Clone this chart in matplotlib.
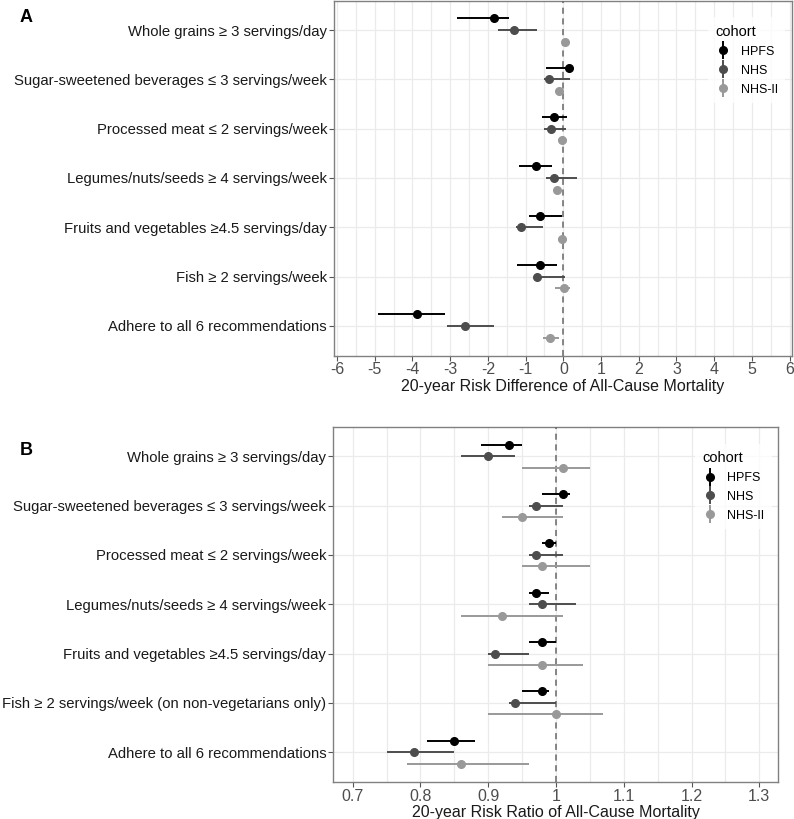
import matplotlib.pyplot as plt
import numpy as np
from matplotlib.lines import Line2D
from matplotlib.legend_handler import HandlerTuple

plt.rcParams["font.family"] = ["Liberation Sans", "DejaVu Sans"]

labels_a = ["Whole grains ≥ 3 servings/day",
            "Sugar-sweetened beverages ≤ 3 servings/week",
            "Processed meat ≤ 2 servings/week",
            "Legumes/nuts/seeds ≥ 4 servings/week",
            "Fruits and vegetables ≥4.5 servings/day",
            "Fish ≥ 2 servings/week",
            "Adhere to all 6 recommendations"]
labels_b = labels_a[:5] + ["Fish ≥ 2 servings/week (on non-vegetarians only)",
                           labels_a[6]]
cohorts = ["HPFS", "NHS", "NHS-II"]
colors = ["#000000", "#4d4d4d", "#999999"]

# panel A: risk difference (estimate, lower, upper) per cohort
rd_hpfs = [-1.84, 0.16, -0.24, -0.73, -0.61, -0.62, -3.88]
rd_hpfs_lo = [-2.82, -0.46, -0.56, -1.17, -0.92, -1.23, -4.92]
rd_hpfs_hi = [-1.45, 0.22, 0.11, -0.31, -0.04, -0.16, -3.14]
rd_nhs = [-1.30, -0.37, -0.33, -0.24, -1.12, -0.70, -2.61]
rd_nhs_lo = [-1.72, -0.50, -0.50, -0.46, -1.26, -0.76, -3.08]
rd_nhs_hi = [-0.70, 0.17, 0.07, 0.37, -0.53, 0.04, -1.83]
rd_nhs2 = [0.04, -0.12, -0.04, -0.18, -0.04, 0.01, -0.35]
rd_nhs2_lo = [-0.04, -0.20, -0.13, -0.26, -0.13, -0.22, -0.55]
rd_nhs2_hi = [0.10, -0.05, 0.11, -0.07, 0.07, 0.18, -0.11]

# panel B: risk ratio
rr_hpfs = [0.93, 1.01, 0.99, 0.97, 0.98, 0.98, 0.85]
rr_hpfs_lo = [0.89, 0.98, 0.98, 0.96, 0.96, 0.95, 0.81]
rr_hpfs_hi = [0.95, 1.02, 1.00, 0.99, 1.00, 0.99, 0.88]
rr_nhs = [0.90, 0.97, 0.97, 0.98, 0.91, 0.94, 0.79]
rr_nhs_lo = [0.86, 0.96, 0.96, 0.96, 0.90, 0.93, 0.75]
rr_nhs_hi = [0.94, 1.01, 1.01, 1.03, 0.96, 1.00, 0.85]
rr_nhs2 = [1.01, 0.95, 0.98, 0.92, 0.98, 1.00, 0.86]
rr_nhs2_lo = [0.95, 0.92, 0.95, 0.86, 0.90, 0.90, 0.78]
rr_nhs2_hi = [1.05, 1.01, 1.05, 1.01, 1.04, 1.07, 0.96]

W, H = 794, 819
fig = plt.figure(figsize=(W / 100, H / 100), dpi=100)


def box(l, r, t, b):
    return [l / W, 1 - b / H, (r - l) / W, (b - t) / H]


def forest(ax, labels, est, lo, hi, ref, xlim, xticks, xticklabels, minor,
           xlabel, leg_y):
    n = len(labels)
    ypos = np.arange(n)[::-1] + 1
    offs = [0.235, 0.0, -0.235]
    ax.axvline(ref, color="#666666", ls=(0, (4, 3)), lw=1.1, zorder=3)
    for k in range(3):
        y = ypos + offs[k]
        ax.hlines(y, lo[k], hi[k], color=colors[k], lw=1.4, zorder=4)
        ax.plot(est[k], y, "o", ms=5.5, color=colors[k], ls="none", zorder=5)
    ax.set_ylim(0.4, n + 0.6)
    ax.set_yticks(ypos)
    ax.set_yticklabels(labels, fontsize=10.7, color="#1a1a1a")
    ax.set_xlim(*xlim)
    ax.set_xticks(xticks)
    ax.set_xticklabels(xticklabels, fontsize=11.5, color="#4d4d4d")
    ax.set_xticks(minor, minor=True)
    ax.tick_params(which="minor", length=0)
    ax.tick_params(which="major", length=3.5, color="#555555", width=0.8,
                   pad=1.5)
    ax.grid(True, which="both", color="#ebebeb", lw=0.9)
    ax.set_axisbelow(True)
    for s in ax.spines.values():
        s.set_color("#808080")
        s.set_linewidth(1.0)
    ax.set_xlabel(xlabel, fontsize=11.5, color="#1a1a1a", labelpad=1)

    handles = [(Line2D([], [], marker="|", ms=13, mew=1.4, color=c, ls="none"),
                Line2D([], [], marker="o", ms=5.5, color=c, ls="none"))
               for c in colors]
    leg = ax.legend(handles, cohorts, title="cohort", loc="upper right",
                    bbox_to_anchor=(1.0, leg_y), frameon=True, fontsize=9,
                    title_fontsize=10.5,
                    handler_map={tuple: HandlerTuple(ndivide=1)},
                    handlelength=1.2, handletextpad=0.8, labelspacing=0.55,
                    borderpad=0.6)
    leg.get_frame().set_edgecolor("none")
    leg.get_frame().set_facecolor("white")
    leg._legend_box.align = "left"
    leg.set_zorder(6)


ax1 = fig.add_axes(box(334, 791.5, 0.5, 355.5))
forest(ax1, labels_a,
       [rd_hpfs, rd_nhs, rd_nhs2], [rd_hpfs_lo, rd_nhs_lo, rd_nhs2_lo],
       [rd_hpfs_hi, rd_nhs_hi, rd_nhs2_hi], 0, (-6.08, 6.05),
       np.arange(-6, 7), [str(v) for v in range(-6, 7)],
       np.arange(-5.5, 6, 1.0),
       "20-year Risk Difference of All-Cause Mortality", 0.97)

ax2 = fig.add_axes(box(333.3, 778.3, 426.7, 781.7))
forest(ax2, labels_b,
       [rr_hpfs, rr_nhs, rr_nhs2], [rr_hpfs_lo, rr_nhs_lo, rr_nhs2_lo],
       [rr_hpfs_hi, rr_nhs_hi, rr_nhs2_hi], 1, (0.6715, 1.328),
       np.arange(0.7, 1.31, 0.1), ["0.7", "0.8", "0.9", "1", "1.1", "1.2", "1.3"],
       np.arange(0.75, 1.3, 0.1),
       "20-year Risk Ratio of All-Cause Mortality", 0.97)

fig.text(20 / W, 1 - 17 / H, "A", fontsize=13, fontweight="bold", va="center")
fig.text(20 / W, 1 - 450 / H, "B", fontsize=13, fontweight="bold", va="center")

fig.savefig("out.png", dpi=100)
